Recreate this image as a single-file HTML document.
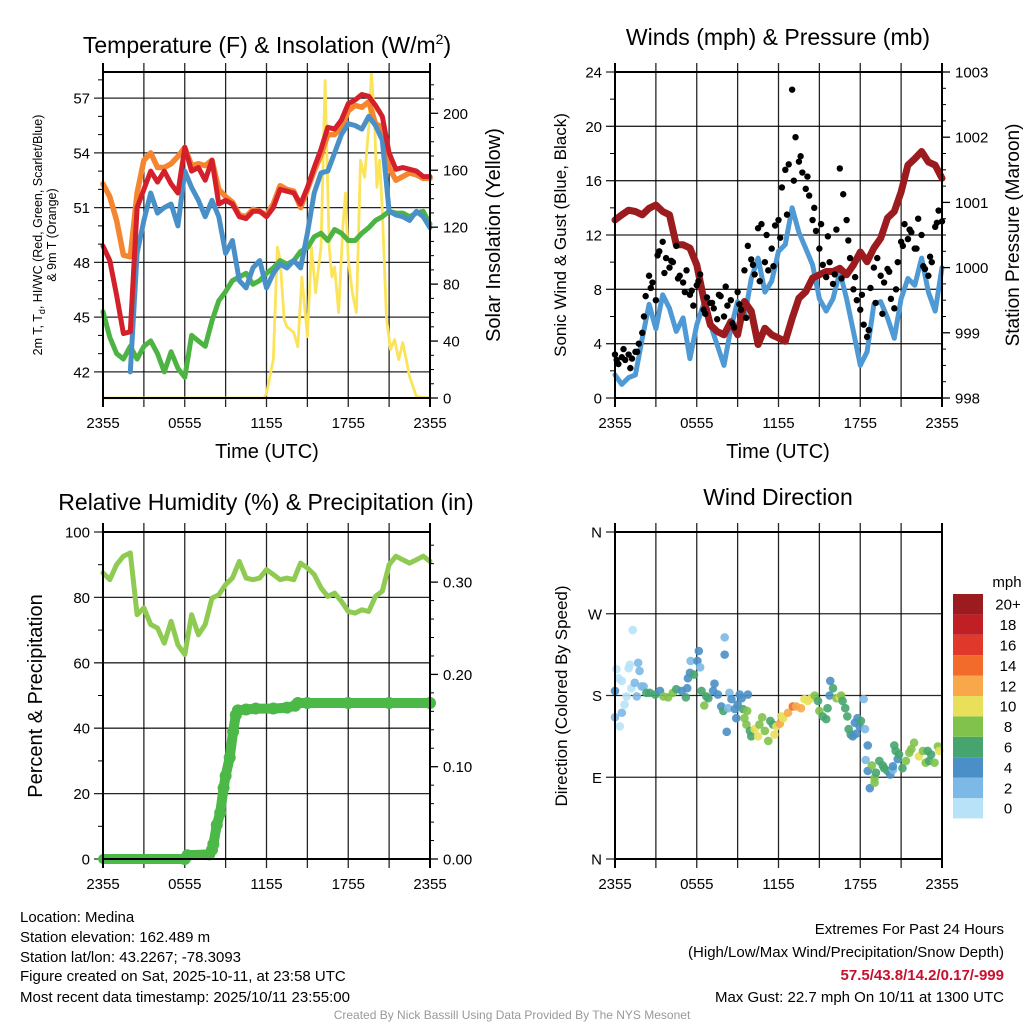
<!DOCTYPE html>
<html><head><meta charset="utf-8">
<style>
html,body{margin:0;padding:0;background:#fff;}
svg{display:block;font-family:"Liberation Sans",Arial,sans-serif;}
</style></head>
<body>
<svg id="fig" width="1024" height="1024" viewBox="0 0 1024 1024" xmlns="http://www.w3.org/2000/svg">
<rect width="1024" height="1024" fill="#fff"/>
<g id="grids"></g>
<g id="marks"></g>
<g id="frames"></g>
<g id="texts">
<text x="267" y="53" font-size="23" text-anchor="middle">Temperature (F) &amp; Insolation (W/m<tspan font-size="14" dy="-9">2</tspan><tspan dy="9">)</tspan></text>
<text x="778" y="45" font-size="23" text-anchor="middle">Winds (mph) &amp; Pressure (mb)</text>
<text x="266" y="510" font-size="23" text-anchor="middle">Relative Humidity (%) &amp; Precipitation (in)</text>
<text x="778" y="505" font-size="23" text-anchor="middle">Wind Direction</text>

<text transform="translate(42,235) rotate(-90)" font-size="12.5" text-anchor="middle">2m T, T<tspan font-size="9" dy="3">d</tspan><tspan dy="-3">, HI/WC (Red, Green, Scarlet/Blue)</tspan></text>
<text transform="translate(56,235) rotate(-90)" font-size="12.5" text-anchor="middle">&amp; 9m T (Orange)</text>
<text transform="translate(500,235) rotate(-90)" font-size="20" text-anchor="middle">Solar Insolation (Yellow)</text>
<text transform="translate(566,235) rotate(-90)" font-size="17" text-anchor="middle">Sonic Wind &amp; Gust (Blue, Black)</text>
<text transform="translate(1019,235) rotate(-90)" font-size="19" text-anchor="middle">Station Pressure (Maroon)</text>
<text transform="translate(42,696) rotate(-90)" font-size="20" text-anchor="middle">Percent &amp; Precipitation</text>
<text transform="translate(567,696) rotate(-90)" font-size="17" text-anchor="middle">Direction (Colored By Speed)</text>

<text x="267" y="458" font-size="20" text-anchor="middle">Time (UTC)</text>
<text x="778" y="458" font-size="20" text-anchor="middle">Time (UTC)</text>

<g font-size="15">
<text x="20" y="922">Location: Medina</text>
<text x="20" y="942">Station elevation: 162.489 m</text>
<text x="20" y="962">Station lat/lon: 43.2267; -78.3093</text>
<text x="20" y="981">Figure created on Sat, 2025-10-11, at 23:58 UTC</text>
<text x="20" y="1002">Most recent data timestamp: 2025/10/11 23:55:00</text>
</g>
<g font-size="15" text-anchor="end">
<text x="1004" y="934">Extremes For Past 24 Hours</text>
<text x="1004" y="957">(High/Low/Max Wind/Precipitation/Snow Depth)</text>
<text x="1004" y="980" fill="#c8102e" font-weight="bold">57.5/43.8/14.2/0.17/-999</text>
<text x="1004" y="1002">Max Gust: 22.7 mph On 10/11 at 1300 UTC</text>
</g>
<text x="512" y="1019" font-size="12" fill="#999" text-anchor="middle">Created By Nick Bassill Using Data Provided By The NYS Mesonet</text>
</g>
</svg>
<script>
// ---------- data ----------
const timeTickLabels = ["2355","0555","1155","1755","2355"];
const temp2m = [48.9,48.1,46.2,44.1,44.2,51.0,52.0,53.0,52.4,53.0,52.3,51.8,54.3,53.0,53.2,52.5,53.6,51.2,51.4,51.2,50.5,50.4,50.8,50.8,50.5,51.0,52.0,51.9,51.8,51.2,52.1,53.2,54.2,55.4,55.3,55.8,56.7,56.9,57.2,57.1,56.6,56.0,54.0,53.1,53.2,53.1,53.0,52.7,52.7];
const temp9m = [52.3,51.6,50.3,48.4,48.3,51.8,53.6,54.0,53.2,53.2,53.4,53.8,54.3,53.3,53.4,53.3,53.6,52.0,51.6,51.3,50.6,50.5,50.9,50.8,50.6,51.2,52.2,52.0,51.9,51.0,52.0,53.0,53.9,55.0,55.0,55.4,56.3,56.6,56.5,56.8,55.6,55.4,53.2,52.5,52.7,52.9,52.8,52.6,52.6];
const heatIndexWindChill = [null,null,null,null,42.0,48.5,50.3,51.8,50.7,51.0,51.2,50.0,53.0,52.1,51.4,50.5,51.4,50.5,48.5,49.2,47.0,46.6,47.7,48.1,46.6,47.4,47.9,47.7,48.1,47.7,49.6,51.8,52.9,53.0,54.0,55.0,55.6,55.5,55.3,56.0,55.5,54.7,50.8,50.6,50.5,50.3,50.8,50.5,49.9];
const dewPoint = [45.3,43.9,43.0,42.7,43.4,42.7,43.4,43.7,43.0,42.0,43.1,42.2,41.7,44.0,43.7,43.4,44.8,45.9,46.4,47.0,47.2,47.4,46.8,47.0,47.4,47.7,48.1,47.9,48.1,48.6,48.8,49.4,49.6,49.2,49.8,49.6,49.2,49.2,49.6,49.9,50.3,50.5,50.8,50.7,50.7,50.5,50.7,50.8,50.1];
const solarHours = [0,11.8,12,12.5,12.8,13,13.3,13.5,14,14.3,14.6,15,15.3,15.6,16,16.3,16.6,16.8,17,17.3,17.6,17.8,18,18.3,18.6,18.9,19.2,19.5,19.7,19.9,20.1,20.3,20.5,20.8,21.1,21.4,21.7,22,22.5,23,24];
const solarValues = [0,0,3,27,106,97,55,50,46,36,85,43,106,74,106,223,106,85,92,60,120,144,97,74,60,167,155,190,228,202,148,167,132,57,34,41,27,39,15,1,0];
const windSpeed = [1.7,1.0,1.5,1.7,4.4,6.9,5.1,7.6,6.6,4.9,5.9,2.9,5.4,6.9,5.4,3.9,2.4,5.1,7.1,5.9,8.8,10.3,7.8,8.6,10.8,11.3,14.0,12.2,11.0,9.8,7.3,6.4,7.3,9.3,7.3,4.9,2.4,3.4,6.9,7.1,5.9,4.4,7.3,8.8,8.3,10.3,7.8,6.4,9.6];
const gustSpeed = [3.2,2.5,3.0,2.8,3.2,2.9,3.4,4.0,4.8,7.5,9.0,8.5,7.2,10.8,11.5,10.3,9.6,10.0,11.2,9.0,8.5,9.4,7.6,6.8,8.3,9.1,6.5,7.4,7.0,6.6,5.8,7.5,6.0,6.8,7.2,5.2,7.8,6.5,9.4,11.2,10.2,9.1,12.5,12.8,10.0,9.4,11.0,12.7,13.1,15.5,16.8,17.2,22.7,19.2,17.4,16.6,15.4,14.9,13.1,12.3,11.0,9.8,8.9,10.0,8.4,12.4,16.9,15.0,13.1,10.3,8.0,7.2,6.5,5.4,4.5,8.1,9.6,10.3,9.0,8.5,9.5,7.3,6.6,10.0,11.5,12.8,11.7,12.2,11.0,13.2,12.0,9.5,9.0,10.0,12.6,13.8,13.0];
const gustSpeedMid = [2.8,3.6,2.2,3.4,6.0,8.1,10.5,9.2,10.1,8.8,7.8,7.9,8.6,6.2,7.0,7.6,8.2,5.5,6.9,5.9,9.8,8.6,12.0,9.7,11.8,13.5,16.0,17.8,16.3,14.0,12.8,11.9,9.1,8.8,11.6,8.9,7.6,5.0,7.0,6.2,9.3,8.0,11.2,12.4,11.0,9.7,10.4,12.9];
const pressure = [1000.73,1000.81,1000.88,1000.86,1000.81,1000.91,1000.96,1000.86,1000.81,1000.35,1000.35,1000.30,1000.04,999.53,999.12,999.02,998.97,999.17,998.97,999.48,999.33,998.82,999.07,998.97,998.92,998.87,999.22,999.53,999.63,999.84,999.89,999.94,999.94,999.99,999.89,1000.04,1000.24,1000.09,1000.30,1000.45,1000.76,1000.86,1001.16,1001.57,1001.67,1001.78,1001.62,1001.57,1001.37];
const relHumidity = [87.5,85.4,90,92.6,93.6,74.7,76.8,71.7,70.6,66,72.7,65.5,62.5,74.7,68.6,71.7,79.8,80.8,83.9,85.9,91,85.9,85.4,85.9,88.5,87,85.4,85.9,85.4,90.5,89,87,82.9,80.3,81.3,78.8,75.7,75.2,76.2,75.7,80.3,81.9,90,92.6,91.5,90.5,91.5,92.6,91];
const precipHours = [0,6,6.2,7.8,8.0,8.1,8.35,8.6,8.85,9.0,9.3,9.55,9.75,9.9,10.5,11.2,12.5,13.5,14.1,14.3,15,18,21,24];
const precipValues = [0,0,0.004,0.005,0.01,0.016,0.037,0.05,0.077,0.09,0.11,0.138,0.156,0.161,0.162,0.163,0.163,0.164,0.166,0.169,0.169,0.169,0.169,0.169];
const dirHours = [0,0.1,0.25,0.5,0,0.35,0.5,0.7,0.85,1.0,1.1,1.3,1.2,1.45,1.7,1.8,1.95,1.6,2.1,2.3,2.55,2.95,3.3,3.55,3.9,4.25,4.5,4.9,5.2,5.3,5.35,5.5,5.55,5.8,6.05,6.15,6.25,6.35,6.55,6.7,6.85,7.2,7.3,7.55,7.8,7.95,8.05,8.05,8.2,8.3,8.4,8.55,8.8,8.9,9.0,9.15,9.3,9.4,9.5,9.65,9.75,9.7,9.9,10.0,10.25,10.5,10.6,10.8,11.0,11.25,11.4,11.6,11.7,11.85,12.1,12.2,12.35,12.7,13.05,13.3,13.65,13.9,14.15,14.4,14.65,14.9,15.0,15.25,15.5,15.6,15.75,15.8,16.0,16.25,16.5,16.6,16.7,16.9,17.05,17.15,17.3,17.45,17.6,17.7,17.8,17.95,18.05,18.25,18.35,18.55,18.4,18.55,18.7,18.85,19.05,19.05,19.15,19.4,19.65,19.75,20.0,20.2,20.4,20.4,20.5,20.6,20.75,20.85,21.1,21.35,21.6,21.75,21.95,22.3,22.6,22.8,23.05,23.2,23.45,23.7,23.8,22.95];
const dirDegrees = [185,209,199,196,156,146,161,170,179,210,214,252,188,194,216,207,190,179,190,183,183,181,185,179,178,183,187,185,178,188,199,205,218,203,218,229,211,185,169,179,177,185,193,181,168,163,225,244,140,166,183,176,165,155,170,181,177,165,155,148,181,163,141,135,143,135,148,156,141,130,152,148,137,146,149,157,155,161,168,168,166,176,174,177,180,174,163,157,154,166,180,196,188,177,178,180,174,166,157,143,137,135,150,138,155,146,152,176,143,125,109,97,78,103,89,84,95,108,103,100,97,93,98,102,125,119,110,115,100,108,117,121,128,113,119,106,108,115,106,124,119,119,119];
const dirSpeeds = [4,0,0,0,2,0,2,0,0,0,0,0,0,2,2,2,2,2,2,6,6,6,4,8,8,8,6,4,6,4,4,4,2,6,4,4,2,6,8,6,6,4,4,4,4,6,4,2,4,2,2,4,4,4,4,4,4,6,8,8,4,8,6,6,10,10,8,8,8,8,6,6,10,10,12,10,10,12,14,12,12,10,10,10,8,6,8,6,6,6,4,4,6,8,10,8,6,6,6,6,6,4,4,4,4,4,6,2,2,4,2,4,4,8,8,8,6,6,6,6,6,4,2,4,6,6,4,6,6,8,8,8,8,10,8,8,6,6,8,8,10,6];
const speedBins = ["0","2","4","6","8","10","12","14","16","18","20+"];
const speedColors = ["#b8e2f8","#7db9e6","#4a8fc7","#46a56e","#80c24b","#e8e05a","#f8a84a","#f26b2a","#e0382b","#c01f26","#9b1b1e"];

// ---------- helpers ----------
const NS = "http://www.w3.org/2000/svg";
function mk(tag, attrs, parent){ const e=document.createElementNS(NS,tag); for(const k in attrs) e.setAttribute(k,attrs[k]); parent.appendChild(e); return e; }
const G = document.getElementById('grids'), M = document.getElementById('marks'), F = document.getElementById('frames'), T = document.getElementById('texts');

function panel(x0,x1,y0,y1,lmin,lmax,rmin,rmax){
  return {x0,x1,y0,y1,
    x:h=>x0+(h/24)*(x1-x0),
    yl:v=>y1-(v-lmin)/(lmax-lmin)*(y1-y0),
    yr:v=>y1-(v-rmin)/(rmax-rmin)*(y1-y0)};
}
const P1 = panel(103,430,72,398,40.57,58.43,0,229);
const P2 = panel(615,942,72,398,0,24,998,1003);
const P3 = panel(103,430,532,859,0,100,0,0.3543);
const P4 = panel(615,942,532,859,0,360,0,1);

function drawFrame(P,name,leftTicks,leftLabels,rightTicks,rightLabels,rightScale,minorL,minorR){
  for(let h=3;h<24;h+=3){
    const l=mk('line',{x1:P.x(h),x2:P.x(h),y1:P.y0-9,y2:P.y1+9,stroke:'#000','stroke-width':1.3,'stroke-opacity':0.85},G);
    
    
  }
  leftTicks.forEach(v=>{
    const y=P.yl(v);
    const l=mk('line',{x1:P.x0-9,x2:P.x1,y1:y,y2:y,stroke:'#000','stroke-width':1.3,'stroke-opacity':0.85},G);
    
    
  });
  minorL.forEach(v=>{ const y=P.yl(v); mk('line',{x1:P.x0-5,x2:P.x0,y1:y,y2:y,stroke:'#000','stroke-width':1},F); });
  rightTicks.forEach(v=>{ const y=P.yr(v); mk('line',{x1:P.x1,x2:P.x1+8,y1:y,y2:y,stroke:'#000','stroke-width':1.3},F); });
  minorR.forEach(v=>{ const y=P.yr(v); mk('line',{x1:P.x1,x2:P.x1+4,y1:y,y2:y,stroke:'#000','stroke-width':1},F); });
  const r=mk('rect',{x:P.x0,y:P.y0,width:P.x1-P.x0,height:P.y1-P.y0,fill:'none',stroke:'#000','stroke-width':2},F);
  
  
  mk('line',{x1:P.x0,x2:P.x0,y1:P.y0-9,y2:P.y1+9,stroke:'#000','stroke-width':2},F);
  mk('line',{x1:P.x1,x2:P.x1,y1:P.y0-9,y2:P.y1+9,stroke:'#000','stroke-width':2},F);
  leftTicks.forEach((v,i)=>{
    const t=mk('text',{x:P.x0-13,y:P.yl(v)+5.5,'font-size':15,'text-anchor':'end'},T);
    t.textContent=leftLabels[i];
    
    
  });
  rightTicks.forEach((v,i)=>{
    if(rightLabels[i]===null) return;
    const t=mk('text',{x:P.x1+13,y:P.yr(v)+5.5,'font-size':15,'text-anchor':'start'},T);
    t.textContent=rightLabels[i];
    
    
  });
  timeTickLabels.forEach((lab,i)=>{
    const t=mk('text',{x:P.x(i*6),y:P.y1+30,'font-size':15,'text-anchor':'middle'},T);
    t.textContent=lab;
    
    
  });
}

function pathFromArray(P,arr,ys,hoursArr){
  let d='',pen=false;
  arr.forEach((v,i)=>{
    if(v===null){pen=false;return;}
    const h = hoursArr ? hoursArr[i] : i*24/(arr.length-1);
    d += (pen?'L':'M')+P.x(h).toFixed(1)+','+ys(v).toFixed(1);
    pen=true;
  });
  return d;
}
function drawLine(P,arr,ys,color,w,name,hoursArr){
  const p=mk('path',{d:pathFromArray(P,arr,ys,hoursArr),fill:'none',stroke:color,'stroke-width':w,'stroke-linejoin':'round','stroke-linecap':'round'},M);
  
  
}

// ---------- panel 1 ----------
drawFrame(P1,'temperature',[42,45,48,51,54,57],['42','45','48','51','54','57'],[0,40,80,120,160,200],['0','40','80','120','160','200'],null,[43,44,46,47,49,50,52,53,55,56,58],[10,20,30,50,60,70,90,100,110,130,140,150,170,180,190,210,220]);
drawLine(P1,solarValues,P1.yr,'#fbe35a',2.8,'solar-insolation-line',solarHours);
drawLine(P1,dewPoint,P1.yl,'#4db444',5,'dewpoint-line');
drawLine(P1,temp9m,P1.yl,'#f6852f',5.5,'temp-9m-line');
drawLine(P1,heatIndexWindChill,P1.yl,'#4a90c8',5,'heat-index-wind-chill-line');
drawLine(P1,temp2m,P1.yl,'#d4202a',5,'temp-2m-line');

// ---------- panel 2 ----------
drawFrame(P2,'winds',[0,4,8,12,16,20,24],['0','4','8','12','16','20','24'],[998,999,1000,1001,1002,1003],['998','999','1000','1001','1002','1003'],null,[2,6,10,14,18,22],[998.25,998.5,998.75,999.25,999.5,999.75,1000.25,1000.5,1000.75,1001.25,1001.5,1001.75,1002.25,1002.5,1002.75]);
drawLine(P2,windSpeed,P2.yl,'#4f9ad4',5,'wind-speed-line');
drawLine(P2,pressure,P2.yr,'#9b1b1e',7,'pressure-line');
gustSpeed.forEach((v,i)=>{
  const c=mk('circle',{cx:P2.x(i*24/(gustSpeed.length-1)),cy:P2.yl(v),r:3.2,fill:'#000'},M);
  
  
});
gustSpeedMid.forEach((v,i)=>{
  const c=mk('circle',{cx:P2.x(0.125+i*0.5),cy:P2.yl(v),r:3.2,fill:'#000'},M);
  
  
});

// ---------- panel 3 ----------
drawFrame(P3,'humidity',[0,20,40,60,80,100],['0','20','40','60','80','100'],[0,0.1,0.2,0.3],['0.00','0.10','0.20','0.30'],null,[10,30,50,70,90],[0.02,0.04,0.06,0.08,0.12,0.14,0.16,0.18,0.22,0.24,0.26,0.28,0.32,0.34]);
drawLine(P3,relHumidity,P3.yl,'#8fcb52',5,'relative-humidity-line');
drawLine(P3,precipValues,P3.yr,'#4cb848',10,'precipitation-line',precipHours);
precipValues.forEach((v,i)=>{
  if(i===0) return;
  const c=mk('circle',{cx:P3.x(precipHours[i]),cy:P3.yr(v),r:6,fill:'#4cb848'},M);
  
  
});

// ---------- panel 4 ----------
drawFrame(P4,'wind-direction',[0,90,180,270,360],['N','E','S','W','N'],[],[],null,[],[]);
const nDir = Math.min(dirHours.length, dirDegrees.length, dirSpeeds.length);
for(let i=0;i<nDir;i++){
  const bin=Math.min(10,Math.max(0,Math.round(dirSpeeds[i]/2)));
  const c=mk('circle',{cx:P4.x(dirHours[i]),cy:P4.yl(dirDegrees[i]),r:4.3,fill:speedColors[bin],'fill-opacity':0.9},M);
  
  
}
// colorbar
const cb0=594, cbH=20.4;
speedBins.forEach((lab,i)=>{
  const y=cb0+(10-i)*cbH;
  const r=mk('rect',{x:953,y:y,width:30,height:cbH,fill:speedColors[i]},M);
  
  
  const t=mk('text',{x:1008,y:y+cbH/2+5.5,'font-size':15,'text-anchor':'middle'},T);
  t.textContent=lab;
  
  
});
const mph=mk('text',{x:1007,y:587,'font-size':15,'text-anchor':'middle'},T);
mph.textContent='mph';


</script>
</body></html>
